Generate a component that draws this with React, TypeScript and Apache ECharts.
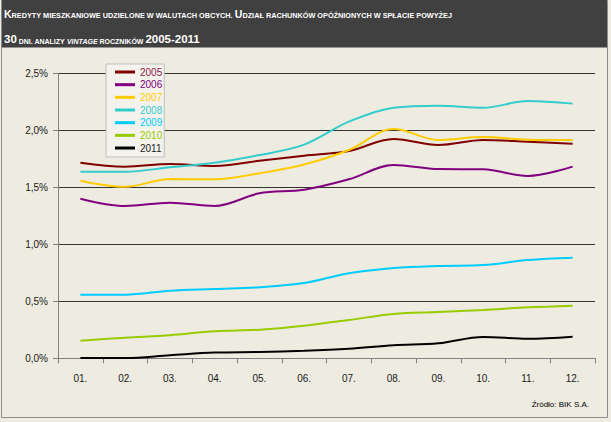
import React, { useEffect, useRef } from 'react';
import * as echarts from 'echarts';

const categories = ['01.', '02.', '03.', '04.', '05.', '06.', '07.', '08.', '09.', '10.', '11.', '12.'];
const seriesNames = ['2005', '2006', '2007', '2008', '2009', '2010', '2011'];
const seriesColors = ['#800000', '#800080', '#FFCC00', '#33CCCC', '#00CCFF', '#99CC00', '#000000'];
const legendTextColors = ['#8B1A4A', '#800080', '#FFCC00', '#33CCCC', '#00CCFF', '#99CC00', '#1a1a1a'];

const v2005 = [1.716, 1.681, 1.704, 1.687, 1.733, 1.777, 1.818, 1.924, 1.871, 1.915, 1.9, 1.883];
const v2006 = [1.4, 1.336, 1.365, 1.336, 1.447, 1.479, 1.57, 1.696, 1.66, 1.658, 1.599, 1.681];
const v2007 = [1.558, 1.505, 1.573, 1.57, 1.623, 1.7, 1.827, 2.011, 1.915, 1.941, 1.918, 1.915];
const v2008 = [1.637, 1.637, 1.675, 1.716, 1.783, 1.874, 2.076, 2.198, 2.216, 2.198, 2.257, 2.234];
const v2009 = [0.558, 0.558, 0.593, 0.608, 0.623, 0.66, 0.746, 0.792, 0.81, 0.818, 0.862, 0.882];
const v2010 = [0.154, 0.181, 0.202, 0.237, 0.251, 0.286, 0.336, 0.389, 0.406, 0.424, 0.447, 0.462];
const v2011 = [0.002, 0.002, 0.026, 0.05, 0.055, 0.066, 0.084, 0.114, 0.131, 0.187, 0.172, 0.19];
const seriesValues = [v2005, v2006, v2007, v2008, v2009, v2010, v2011];

const yMin = 0;
const yMax = 2.5;
const yStep = 0.5;

const titleLine1 =
  '{b|K}{s|REDYTY MIESZKANIOWE UDZIELONE W WALUTACH OBCYCH. }{b|U}{s|DZIAŁ RACHUNKÓW OPÓŹNIONYCH W SPŁACIE POWYŻEJ}';
const titleLine2 = '{b2|30}{s2| DNI. ANALIZY }{i2|VINTAGE}{s2| ROCZNIKÓW }{b2|2005-2011}';
const sourceText = 'Źródło: BIK S.A.';

const FONT = '"Liberation Sans", Arial, sans-serif';

export default function App() {
  const ref = useRef<HTMLDivElement>(null);
  useEffect(() => {
    const chart = echarts.init(ref.current!, null, { renderer: 'svg' });
    const titleRich = {
      b: { fontSize: 10.5, fontWeight: 'bold', fill: '#ffffff', fontFamily: FONT, verticalAlign: 'bottom' },
      s: { fontSize: 7.3, fontWeight: 'bold', fill: '#ffffff', fontFamily: FONT, verticalAlign: 'bottom' },
      b2: { fontSize: 11.5, fontWeight: 'bold', fill: '#ffffff', fontFamily: FONT, verticalAlign: 'bottom' },
      s2: { fontSize: 7, fontWeight: 'bold', fill: '#ffffff', fontFamily: FONT, verticalAlign: 'bottom' },
      i2: { fontSize: 7, fontWeight: 'bold', fontStyle: 'italic', fill: '#ffffff', fontFamily: FONT, verticalAlign: 'bottom' },
    };
    chart.setOption({
      animation: false,
      backgroundColor: '#EEECE1',
      graphic: [
        {
          type: 'rect',
          z: 0,
          shape: { x: 1.5, y: 0.5, width: 606, height: 417 },
          style: { fill: 'none', stroke: '#8c8c8c', lineWidth: 1 },
        },
        {
          type: 'rect',
          z: 1,
          shape: { x: 2, y: 0, width: 605, height: 47.5 },
          style: { fill: '#404040' },
        },
        {
          type: 'text',
          z: 2,
          x: 4,
          y: 19,
          style: { text: titleLine1, rich: titleRich, verticalAlign: 'bottom', align: 'left' },
        },
        {
          type: 'text',
          z: 2,
          x: 4,
          y: 44.5,
          style: { text: titleLine2, rich: titleRich, verticalAlign: 'bottom', align: 'left' },
        },
        {
          type: 'text',
          z: 2,
          x: 589,
          y: 404,
          style: {
            text: sourceText,
            fontSize: 8,
            fontFamily: FONT,
            fill: '#000000',
            align: 'right',
            verticalAlign: 'middle',
          },
        },
      ],
      grid: { left: 58, right: 16, top: 73.3, bottom: 63.7, containLabel: false },
      legend: {
        orient: 'vertical',
        left: 106,
        top: 64,
        padding: [2, 2, 3, 9],
        itemWidth: 20,
        itemHeight: 3,
        itemGap: 0.67,
        icon: 'rect',
        backgroundColor: '#F4F2EC',
        borderColor: '#BFBFBF',
        borderWidth: 1,
        textStyle: { fontSize: 10, lineHeight: 12, fontFamily: FONT },
        data: seriesNames.map((n, i) => ({ name: n, textStyle: { color: legendTextColors[i] } })),
      },
      xAxis: {
        type: 'category',
        data: categories,
        boundaryGap: true,
        axisLine: { show: true, lineStyle: { color: '#808080', width: 1 } },
        axisTick: { show: true, length: 5, lineStyle: { color: '#808080' } },
        axisLabel: { fontSize: 10, fontFamily: FONT, color: '#1a1a1a', margin: 15 },
        splitLine: { show: false },
      },
      yAxis: {
        type: 'value',
        min: yMin,
        max: yMax,
        interval: yStep,
        axisLine: { show: true, lineStyle: { color: '#808080', width: 1 } },
        axisTick: { show: true, length: 5, lineStyle: { color: '#808080' } },
        axisLabel: {
          fontSize: 10,
          fontFamily: FONT,
          color: '#1a1a1a',
          margin: 10,
          formatter: (v: number) => v.toFixed(1).replace('.', ',') + '%',
        },
        splitLine: { show: true, lineStyle: { color: '#333333', width: 1 } },
      },
      series: seriesNames.map((n, i) => ({
        name: n,
        type: 'line',
        data: seriesValues[i],
        smooth: 0.35,
        showSymbol: false,
        symbol: 'none',
        color: seriesColors[i],
        lineStyle: { color: seriesColors[i], width: 2 },
      })),
    });
    return () => chart.dispose();
  }, []);
  return <div ref={ref} style={{ position: 'fixed', left: 0, top: 0, width: 611, height: 422 }} />;
}
